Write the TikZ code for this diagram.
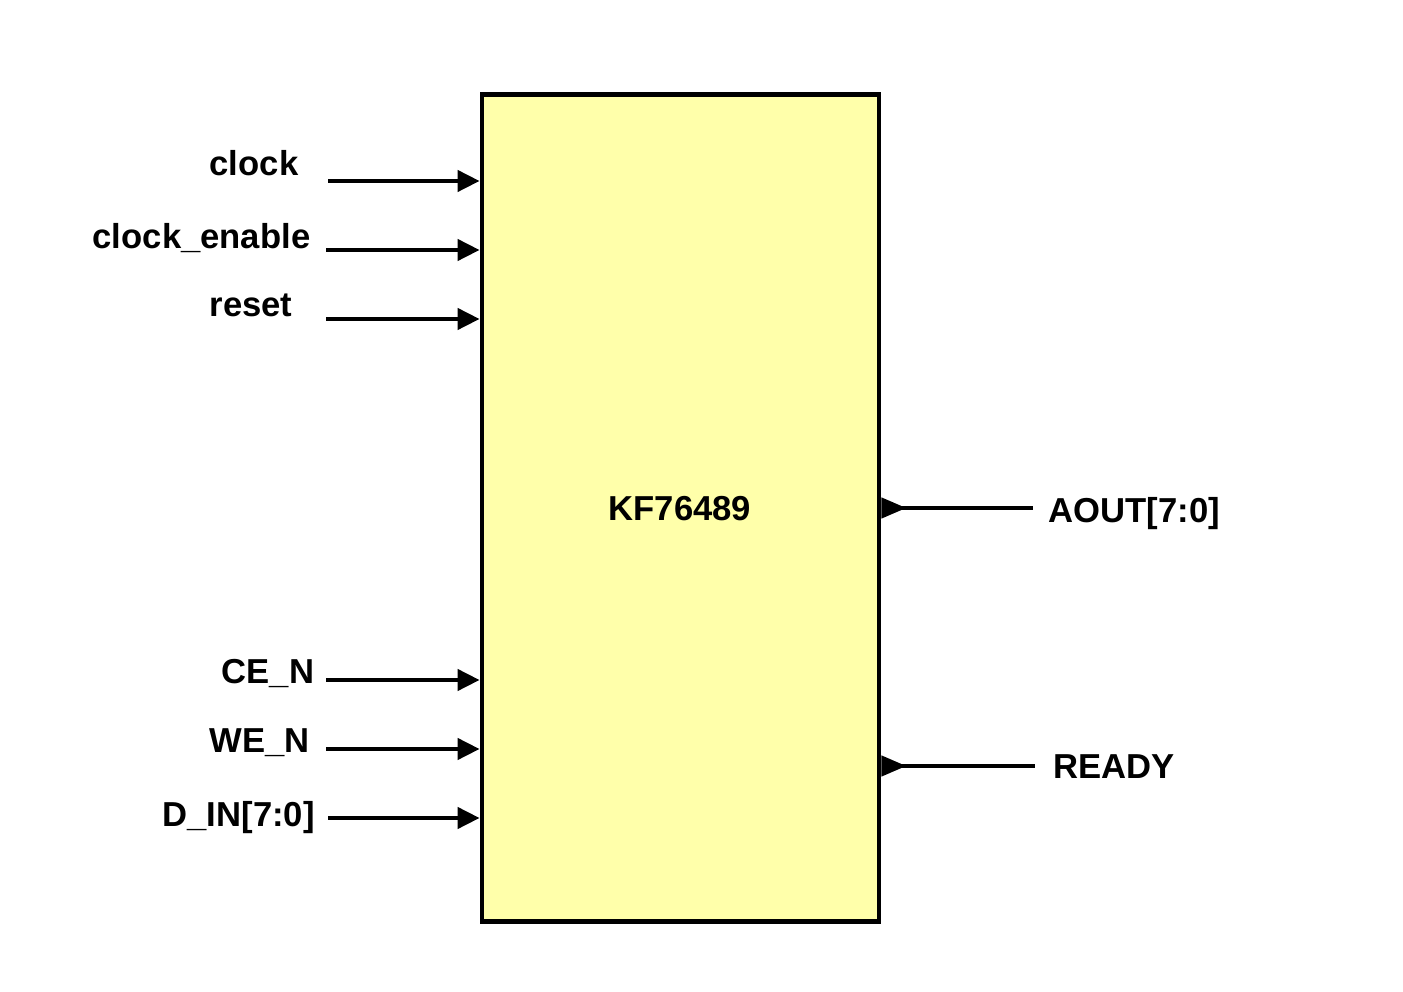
\documentclass[tikz,border=0pt]{standalone}
\usepackage{fontspec}
\setmainfont{Liberation Sans}
\usetikzlibrary{arrows.meta, positioning}

\begin{document}
\begin{tikzpicture}[x=0.01cm, y=-0.01cm, font=\fontsize{9.85}{12}\selectfont\bfseries,
    pin/.style={line width=1.2pt, -{Triangle[length=0.22cm, width=0.21cm]}},
    opin/.style={line width=1.2pt, {Triangle[length=0.25cm, width=0.2cm, reversed]}-},
    lbl/.style={anchor=base west, inner sep=0pt}]
  \useasboundingbox (0,0) rectangle (1403,992);

  % The block itself
  \node[draw, line width=1.3pt, fill={rgb,255:red,255;green,255;blue,170},
    minimum width=3.97cm, minimum height=8.26cm, inner sep=0pt] (blk) at (680.5,508) {};
  \node[inner sep=0pt] (name) at (680,509) {KF76489};

  % Inputs on the left side
  \coordinate (clk) at (328,181);
  \coordinate (clken) at (326,250);
  \coordinate (rst) at (326,319);
  \coordinate (cen) at (326,680);
  \coordinate (wen) at (326,749);
  \coordinate (din) at (328,818);

  \draw[pin] (clk) -- (clk -| blk.west);
  \draw[pin] (clken) -- (clken -| blk.west);
  \draw[pin] (rst) -- (rst -| blk.west);
  \draw[pin] (cen) -- (cen -| blk.west);
  \draw[pin] (wen) -- (wen -| blk.west);
  \draw[pin] (din) -- (din -| blk.west);

  \node[lbl] (clkl) at (209,176) {clock};
  \node[lbl] (clkenl) at (92,249) {clock\_enable};
  \node[lbl] (rstl) at (209,317) {reset};
  \node[lbl] (cenl) at (221,684) {CE\_N};
  \node[lbl] (wenl) at (209,753) {WE\_N};
  \node[lbl] (dinl) at (162,827) {D\_IN[7:0]};

  % Outputs on the right side
  \coordinate (aout) at (1033,508);
  \coordinate (rdy) at (1035,766);

  \draw[opin] (aout -| blk.east) -- (aout);
  \draw[opin] (rdy -| blk.east) -- (rdy);

  \node[lbl] (aoutl) at (1048,523) {AOUT[7:0]};
  \node[lbl] (rdyl) at (1053,779) {READY};
\end{tikzpicture}
\end{document}
